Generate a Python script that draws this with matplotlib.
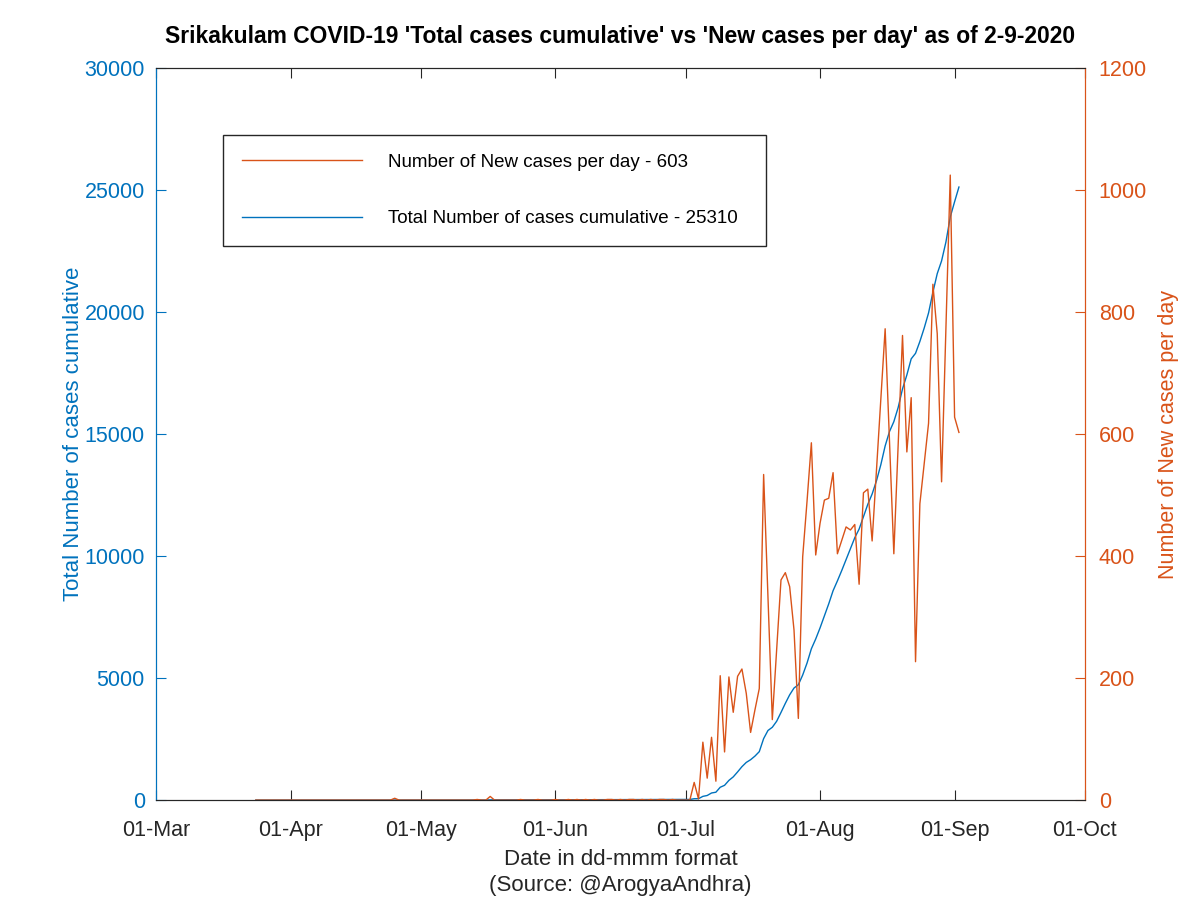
import matplotlib
matplotlib.use("Agg")
import matplotlib.pyplot as plt
import matplotlib.dates as mdates
import numpy as np
import pandas as pd

plt.rcParams['font.family'] = ['Liberation Sans', 'DejaVu Sans']

# new cases per day (24-Mar to 02-Sep 2020)
mar_new = [0, 0, 0, 0, 0, 0, 0, 0]
apr_new = [0, 0, 0, 0, 0, 0, 0, 0, 0, 0, 0, 0, 0, 0, 0,
           0, 0, 0, 0, 0, 0, 0, 0, 0, 3, 0, 0, 0, 0, 0]
may_new = [0, 0, 0, 0, 0, 0, 0, 0, 0, 0, 0, 0, 0, 1, 0, 0,
           6, 0, 0, 0, 0, 0, 0, 1, 0, 0, 0, 1, 0, 0, 0]
jun_new = [1, 0, 0, 1, 0, 1, 0, 1, 0, 1, 0, 0, 1, 1, 0,
           1, 0, 1, 1, 0, 1, 0, 1, 0, 1, 1, 0, 1, 0, 0]
jul_new = [0, 0, 29, 2, 95, 36, 103, 31, 204, 79, 202, 144, 203, 215, 175, 111,
           148, 183, 534, 333, 132, 246, 361, 373, 350, 279, 134, 399, 490, 586, 402]
aug_new = [454, 492, 495, 537, 404, 426, 448, 443, 452, 354, 504, 510, 425, 541, 657, 773,
           590, 404, 583, 762, 571, 660, 227, 486, 552, 618, 846, 765, 522, 773, 1025]
sep_new = [628, 603]

new_cases = np.array(mar_new + apr_new + may_new + jun_new + jul_new + aug_new + sep_new)
dates = pd.date_range("2020-03-24", periods=len(new_cases), freq="D")
total_cases = np.cumsum(new_cases)

blue = '#0072BD'
orange = '#D95319'
dark = '#262626'

fig = plt.figure(figsize=(12, 9), dpi=100)
ax1 = fig.add_axes([0.13, 0.111, 0.774, 0.813])
ax2 = ax1.twinx()

l1, = ax1.plot(dates, total_cases, color=blue, lw=1)
l2, = ax2.plot(dates, new_cases, color=orange, lw=1)

ax1.set_xlim(pd.Timestamp("2020-03-01"), pd.Timestamp("2020-10-01"))
ax1.set_ylim(0, 30000)
ax2.set_ylim(0, 1200)
ax1.set_yticks(np.arange(0, 30001, 5000))
ax2.set_yticks(np.arange(0, 1201, 200))
ax1.xaxis.set_major_locator(mdates.MonthLocator())
ax1.xaxis.set_major_formatter(mdates.DateFormatter('%d-%b'))

ax1.tick_params(axis='x', direction='in', top=True, labelsize=15.5, length=7, pad=14, colors=dark)
ax1.tick_params(axis='y', direction='in', labelsize=15.5, length=7, colors=blue, pad=8)
ax2.tick_params(axis='y', direction='in', labelsize=15.5, length=7, colors=orange, pad=10)
for ax in (ax1, ax2):
    ax.spines['top'].set_color(dark)
    ax.spines['bottom'].set_color(dark)
    ax.spines['left'].set_color(blue)
    ax.spines['right'].set_color(orange)

ax1.set_ylabel('Total Number of cases cumulative', color=blue, fontsize=16, labelpad=0)
ax2.set_ylabel('Number of New cases per day', color=orange, fontsize=15.5, labelpad=8)
ax1.set_xlabel('Date in dd-mmm format\n(Source: @ArogyaAndhra)', fontsize=16,
               color=dark, linespacing=1.3, labelpad=6)
ax1.set_title("Srikakulam COVID-19 'Total cases cumulative' vs 'New cases per day' as of 2-9-2020",
              fontsize=16.5, fontweight='bold', pad=18)

leg_top = 1 - 135 / 900
leg = ax2.legend([l2, l1],
                 ['Number of New cases per day - 603', 'Total Number of cases cumulative - 25310'],
                 loc='upper left', mode='expand',
                 bbox_to_anchor=(223 / 1200, 0.5, 543 / 1200, leg_top - 0.5),
                 bbox_transform=fig.transFigure, borderaxespad=0, fontsize=13.5,
                 handlelength=6.4, handletextpad=1.4, labelspacing=2.1, borderpad=1.0,
                 fancybox=False, framealpha=1, edgecolor=dark)
leg.get_frame().set_linewidth(1)

fig.savefig('out.png', dpi=100)
